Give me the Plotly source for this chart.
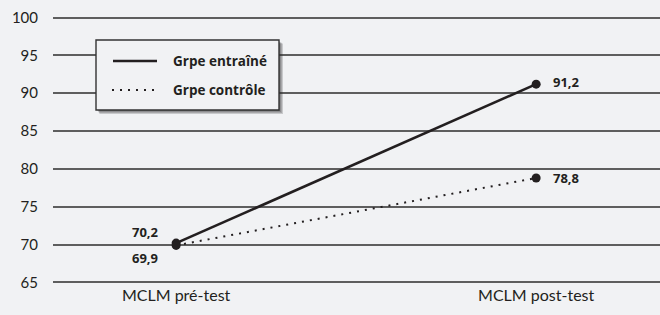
import plotly.graph_objects as go

categories = ["MCLM pré-test", "MCLM post-test"]
entraine = [70.2, 91.2]
controle = [69.9, 78.8]
entraine_labels = ["70,2", "91,2"]
controle_labels = ["69,9", "78,8"]
y_ticks = [65, 70, 75, 80, 85, 90, 95, 100]
legend_names = ["Grpe entraîné", "Grpe contrôle"]

BG = "#f1f2f4"
INK = "#231f20"
FONT = "Lato"
BFONT = "Open Sans"
L, T, B, W, H = 53, 16, 31, 660, 315
PW, PH = W - L, H - T - B


def px(x):
    return (x - L) / PW


def py(y):
    return (H - B - y) / PH


fig = go.Figure()
fig.add_trace(go.Scatter(
    x=categories, y=entraine, name=legend_names[0], mode="lines+markers",
    line=dict(color=INK, width=2.6), marker=dict(color=INK, size=9),
))
fig.add_trace(go.Scatter(
    x=categories, y=controle, name=legend_names[1], mode="lines+markers",
    line=dict(color=INK, width=2, dash="2px,6px"), marker=dict(color=INK, size=9),
))

label_font = dict(family=BFONT, size=13, color=INK, weight="bold")
shifts_e = [(-31, 11), (30, 2)]
shifts_c = [(-31, -13), (30, 0)]
for vals, labels, shifts in [(entraine, entraine_labels, shifts_e), (controle, controle_labels, shifts_c)]:
    for c, v, lab, (dx, dy) in zip(categories, vals, labels, shifts):
        fig.add_annotation(x=c, y=v, text=lab, showarrow=False, xshift=dx, yshift=dy,
                           font=label_font)

# manual legend: shadow, box, samples, labels
for i in range(4, 0, -1):
    fig.add_shape(type="rect", xref="paper", yref="paper",
                  x0=px(96 + 1 + i * 0.6), x1=px(279 + i), y0=py(110 + i), y1=py(40 + 1 + i * 0.6),
                  fillcolor="rgba(40,40,40,0.2)", line=dict(width=0))
fig.add_shape(type="rect", xref="paper", yref="paper",
              x0=px(96), x1=px(279), y0=py(110), y1=py(40),
              fillcolor=BG, line=dict(color="#333333", width=1.4))
fig.add_shape(type="line", xref="paper", yref="paper",
              x0=px(113), x1=px(157), y0=py(61), y1=py(61),
              line=dict(color=INK, width=2.6))
fig.add_shape(type="line", xref="paper", yref="paper",
              x0=px(112), x1=px(160), y0=py(90), y1=py(90),
              line=dict(color=INK, width=2, dash="2px,6px"))
for name, yy in zip(legend_names, [61, 90]):
    fig.add_annotation(xref="paper", yref="paper", x=px(171), y=py(yy),
                       xanchor="left", yanchor="middle", showarrow=False,
                       text=name, font=dict(family=BFONT, size=13.5, color=INK, weight="bold"))

fig.update_layout(
    width=W, height=H,
    paper_bgcolor=BG, plot_bgcolor=BG,
    margin=dict(l=L, r=0, t=T, b=B),
    font=dict(family=FONT, size=15, color=INK),
    showlegend=False,
    xaxis=dict(range=[-0.342, 1.344], showgrid=False, zeroline=False,
               showline=False, ticks="", tickfont=dict(size=16)),
    yaxis=dict(range=[64.8, 100.2], tickvals=y_ticks, showgrid=True,
               gridcolor="#5e5e5e", gridwidth=1.5, zeroline=False,
               showline=False, ticks="", ticklabelstandoff=14,
               tickfont=dict(size=15)),
)

fig.write_html("out.html", config={"displayModeBar": False},
               post_script="document.body.style.margin='0';document.body.style.background='%s';" % BG)
